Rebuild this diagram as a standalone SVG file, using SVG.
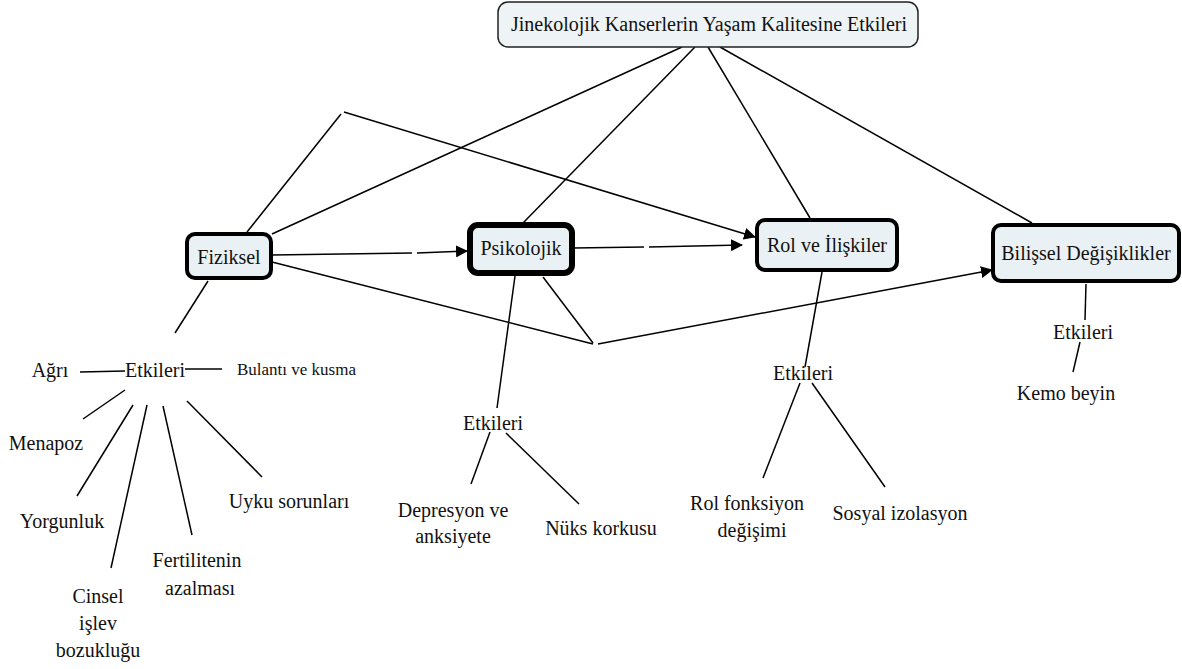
<svg xmlns="http://www.w3.org/2000/svg" width="1182" height="669" viewBox="0 0 1182 669">
<defs>
<marker id="arr" viewBox="0 0 12 12" refX="11" refY="6" markerWidth="12" markerHeight="12" markerUnits="userSpaceOnUse" orient="auto">
<path d="M0,0 L12,6 L0,12 Z" fill="#000"/>
</marker>
</defs>
<style>
.t{font-size:20px;text-anchor:middle;fill:#111;}
.s{font-size:17px;fill:#111;}
.box{fill:#eaf1f5;stroke:#000;stroke-width:4;}
.thick{stroke-width:6;}
.title{fill:#eef3f6;stroke:#222;stroke-width:1.5;}
.ln{stroke:#000;stroke-width:1.5;fill:none;}
</style>
<rect width="1182" height="669" fill="#fff"/>
<g id="connectors">
<line class="ln" x1="682" y1="47" x2="272" y2="234"/>
<line class="ln" x1="695" y1="47" x2="523" y2="223"/>
<line class="ln" x1="708" y1="47" x2="810" y2="218"/>
<line class="ln" x1="720" y1="47" x2="1032" y2="223"/>
<line class="ln" x1="247" y1="232" x2="341" y2="114"/>
<line class="ln" x1="344" y1="112" x2="755" y2="237" marker-end="url(#arr)"/>
<line class="ln" x1="272" y1="255" x2="412" y2="253"/>
<line class="ln" x1="417" y1="253" x2="467" y2="251" marker-end="url(#arr)"/>
<line class="ln" x1="573" y1="248" x2="644" y2="247"/>
<line class="ln" x1="649" y1="247" x2="742" y2="245" marker-end="url(#arr)"/>
<line class="ln" x1="272" y1="262" x2="593" y2="344"/>
<line class="ln" x1="543" y1="277" x2="593" y2="343"/>
<line class="ln" x1="598" y1="344" x2="992" y2="270" marker-end="url(#arr)"/>
<line class="ln" x1="208" y1="281" x2="175" y2="333"/>
<line class="ln" x1="80" y1="372" x2="125" y2="371"/>
<line class="ln" x1="185" y1="369" x2="222" y2="369"/>
<line class="ln" x1="125" y1="390" x2="83" y2="419"/>
<line class="ln" x1="133" y1="405" x2="77" y2="496"/>
<line class="ln" x1="147" y1="405" x2="111" y2="568"/>
<line class="ln" x1="163" y1="406" x2="192" y2="535"/>
<line class="ln" x1="187" y1="401" x2="262" y2="477"/>
<line class="ln" x1="515" y1="276" x2="497" y2="408"/>
<line class="ln" x1="490" y1="432" x2="471" y2="484"/>
<line class="ln" x1="506" y1="433" x2="579" y2="504"/>
<line class="ln" x1="822" y1="272" x2="805" y2="367"/>
<line class="ln" x1="800" y1="383" x2="763" y2="478"/>
<line class="ln" x1="812" y1="383" x2="885" y2="487"/>
<line class="ln" x1="1086" y1="284" x2="1085" y2="320"/>
<line class="ln" x1="1080" y1="342" x2="1073" y2="372"/>
</g>
<g font-family="'Liberation Serif', 'DejaVu Serif', serif">
<g id="title">
<rect class="title" x="498" y="2" width="420" height="45" rx="10"/>
<text class="t" x="709" y="31">Jinekolojik Kanserlerin Yaşam Kalitesine Etkileri</text>
</g>
<g id="fiziksel">
<rect class="box" x="187" y="234" width="84" height="44" rx="8"/>
<text class="t" x="229" y="264">Fiziksel</text>
</g>
<g id="psikolojik">
<rect class="box thick" x="470" y="225" width="102" height="48" rx="8"/>
<text class="t" x="521" y="255">Psikolojik</text>
</g>
<g id="rol">
<rect class="box" x="757" y="220" width="140" height="50" rx="8"/>
<text class="t" x="827" y="252">Rol ve İlişkiler</text>
</g>
<g id="bilissel">
<rect class="box" x="993" y="225" width="186" height="56" rx="8"/>
<text class="t" x="1086" y="260">Bilişsel Değişiklikler</text>
</g>
<g id="fiziksel-etkiler">
<text class="t" x="155" y="377">Etkileri</text>
<text class="t" x="50" y="377">Ağrı</text>
<text class="s" x="237" y="375">Bulantı ve kusma</text>
<text class="t" x="46" y="450">Menapoz</text>
<text class="t" x="62" y="528">Yorgunluk</text>
<text class="t" x="98" y="603">Cinsel</text>
<text class="t" x="98" y="630">işlev</text>
<text class="t" x="98" y="657">bozukluğu</text>
<text class="t" x="197" y="567">Fertilitenin</text>
<text class="t" x="200" y="595">azalması</text>
<text class="t" x="289" y="508">Uyku sorunları</text>
</g>
<g id="psikolojik-etkiler">
<text class="t" x="493" y="430">Etkileri</text>
<text class="t" x="453" y="517">Depresyon ve</text>
<text class="t" x="453" y="543">anksiyete</text>
<text class="t" x="601" y="535">Nüks korkusu</text>
</g>
<g id="rol-etkiler">
<text class="t" x="803" y="380">Etkileri</text>
<text class="t" x="747" y="510">Rol fonksiyon</text>
<text class="t" x="752" y="537">değişimi</text>
<text class="t" x="900" y="520">Sosyal izolasyon</text>
</g>
<g id="bilissel-etkiler">
<text class="t" x="1083" y="339">Etkileri</text>
<text class="t" x="1066" y="400">Kemo beyin</text>
</g>
</g>
</svg>
